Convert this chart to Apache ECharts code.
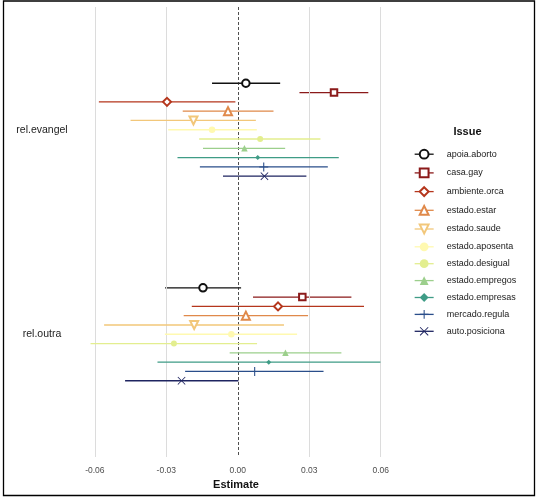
<!DOCTYPE html>
<html><head><meta charset="utf-8">
<script src="https://cdn.jsdelivr.net/npm/echarts@6/dist/echarts.min.js"></script>
<style>html,body{margin:0;padding:0;background:#fff}#c{width:539px;height:500px}</style>
</head><body><div id="c"></div>
<script>
const categories = ['rel.evangel', 'rel.outra'];
const issues = ['apoia.aborto','casa.gay','ambiente.orca','estado.estar','estado.saude','estado.aposenta','estado.desigual','estado.empregos','estado.empresas','mercado.regula','auto.posiciona'];
const estEvangel = [0.0034, 0.0404, -0.0297, -0.0041, -0.0186, -0.0108, 0.0094, 0.0028, 0.0084, 0.0109, 0.0112];
const loEvangel  = [-0.0108, 0.0259, -0.0583, -0.0231, -0.0450, -0.0292, -0.0162, -0.0146, -0.0253, -0.0159, -0.0062];
const hiEvangel  = [0.0178, 0.0548, -0.0010, 0.0150, 0.0076, 0.0080, 0.0347, 0.0199, 0.0424, 0.0378, 0.0288];
const estOutra = [-0.0146, 0.0271, 0.0169, 0.0034, -0.0183, -0.0027, -0.0268, 0.0200, 0.0130, 0.0071, -0.0236];
const loOutra  = [-0.0305, 0.0064, -0.0193, -0.0227, -0.0561, -0.0306, -0.0618, -0.0034, -0.0337, -0.0221, -0.0473];
const hiOutra  = [0.0014, 0.0477, 0.0530, 0.0295, 0.0194, 0.0249, 0.0081, 0.0435, 0.0599, 0.0360, 0.0003];
const xTicks = [-0.06, -0.03, 0, 0.03, 0.06];

const colors = ['#111111','#8B1A1A','#B5361C','#E0894A','#F2C77A','#FFF9B0','#E3EE8F','#9CCF8C','#3F9C86','#2A4E8A','#1E2460'];
const plusPath = 'path://M-0.12,-1H0.12V-0.12H1V0.12H0.12V1H-0.12V0.12H-1V-0.12H-0.12Z';
const crossPath = 'path://M-1,-0.85L-0.85,-1L0,-0.15L0.85,-1L1,-0.85L0.15,0L1,0.85L0.85,1L0,0.15L-0.85,1L-1,0.85L-0.15,0Z';
const symbols = ['emptyCircle','emptyRect','emptyDiamond','emptyTriangle','emptyTriangle','circle','circle','triangle','diamond',plusPath,crossPath];
const symRot = [0,0,0,0,180,0,0,0,0,0,0];
const symSize = [7.5,6.5,8,8,8,6.5,6,6.5,5,9,8];

const est = [estEvangel, estOutra], lo = [loEvangel, loOutra], hi = [hiEvangel, hiOutra];
const n = issues.length, dodge = 0.5;
const series = issues.map((name, i) => {
  const data = [];
  categories.forEach((c, k) => {
    const y = (k + 1) + (i - (n - 1) / 2) * dodge / n;
    if (k > 0) data.push(['-', '-']);
    data.push({value: [lo[k][i], y], symbol: 'none'});
    data.push({value: [est[k][i], y]});
    data.push({value: [hi[k][i], y], symbol: 'none'});
  });
  return {
    name, type: 'line', data, z: 3 + i,
    symbol: symbols[i], symbolSize: symSize[i], symbolRotate: symRot[i],
    showSymbol: true, showAllSymbol: true, connectNulls: false,
    lineStyle: {color: colors[i], width: 1.3},
    itemStyle: {color: colors[i], borderColor: colors[i], borderWidth: symbols[i].indexOf('empty') === 0 ? 1.2 : 0},
    emphasis: {disabled: true}, animation: false
  };
});
series.unshift({
  type: 'line', data: [], silent: true, z: 1,
  markLine: {
    silent: true, symbol: 'none', animation: false, label: {show: false},
    data: xTicks.filter(v => v !== 0).map(v => ({xAxis: v, lineStyle: {color: '#DCDCDC', width: 1, type: 'solid'}}))
      .concat([{xAxis: 0, lineStyle: {color: '#222', width: 0.8, type: [3, 2]}}])
  }
});

const chart = echarts.init(document.getElementById('c'));
chart.setOption({
  backgroundColor: '#fff',
  animation: false,
  textStyle: {fontFamily: 'Liberation Sans, Arial, sans-serif'},
  grid: {left: 76, right: 144, top: 7, bottom: 43},
  xAxis: {
    type: 'value', min: -0.0679, max: 0.066,
    axisLine: {show: false}, axisTick: {show: false}, splitLine: {show: false},
    axisLabel: {customValues: xTicks, formatter: v => v.toFixed(2), color: '#4D4D4D', fontSize: 8.5, margin: 9}
  },
  yAxis: {
    type: 'value', min: 0.4, max: 2.6, inverse: true,
    axisLine: {show: false}, axisTick: {show: false}, splitLine: {show: false},
    axisLabel: {customValues: [1, 2], formatter: v => categories[Math.round(v) - 1] || '', color: '#222', fontSize: 10.5, align: 'center', margin: 34}
  },
  legend: {
    data: issues, orient: 'vertical', left: 414, top: 148.8, padding: 0,
    itemWidth: 19, itemHeight: 11, itemGap: 7.9,
    lineStyle: {width: 1.3},
    textStyle: {fontSize: 9, color: '#1a1a1a', padding: [0, 0, 0, 8]},
    selectedMode: false
  },
  graphic: [
    {type: 'rect', shape: {x: 3.5, y: 1, width: 531, height: 494.5}, style: {fill: 'none', stroke: '#000', lineWidth: 1.3}, silent: true},
    {type: 'text', x: 467.5, y: 131.7, style: {text: 'Issue', font: 'bold 11px Liberation Sans, Arial, sans-serif', fill: '#111', textAlign: 'center', textVerticalAlign: 'middle'}},
    {type: 'text', x: 236, y: 484.5, style: {text: 'Estimate', font: 'bold 11px Liberation Sans, Arial, sans-serif', fill: '#111', textAlign: 'center', textVerticalAlign: 'middle'}}
  ],
  series
});
</script></body></html>
